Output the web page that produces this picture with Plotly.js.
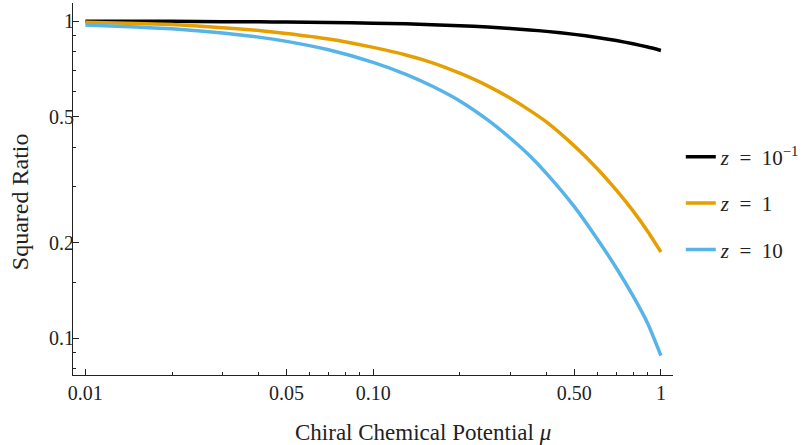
<!DOCTYPE html>
<html>
<head>
<meta charset="utf-8">
<script src="https://cdn.plot.ly/plotly-3.0.1.min.js"></script>
<style>html,body{margin:0;padding:0;background:#fff;}#chart{width:808px;height:445px;}</style>
</head>
<body>
<div id="chart"></div>
<script>
// Chiral chemical potential values
const mu = [0.01, 0.015, 0.02, 0.03, 0.04, 0.05, 0.07, 0.1, 0.13, 0.16, 0.2, 0.25, 0.3, 0.35, 0.4, 0.5, 0.6, 0.7, 0.8, 0.9, 1.0];
// Squared ratio for each z
const zTenth = [0.999, 0.998, 0.998, 0.996, 0.995, 0.993, 0.990, 0.985, 0.980, 0.974, 0.967, 0.958, 0.948, 0.938, 0.928, 0.908, 0.888, 0.868, 0.848, 0.828, 0.808];
const zOne   = [0.991, 0.983, 0.975, 0.953, 0.934, 0.914, 0.878, 0.826, 0.782, 0.740, 0.685, 0.625, 0.571, 0.523, 0.481, 0.404, 0.343, 0.293, 0.252, 0.217, 0.187];
const zTen   = [0.972, 0.958, 0.945, 0.917, 0.890, 0.863, 0.812, 0.741, 0.679, 0.624, 0.560, 0.488, 0.427, 0.376, 0.331, 0.260, 0.206, 0.1665, 0.1359, 0.1112, 0.0881];

const seriesNames = ['<i>z</i>\u2002=\u200210<sup>−1</sup>', '<i>z</i>\u2002=\u20021', '<i>z</i>\u2002=\u200210'];
const seriesColors = ['#000000', '#E69F00', '#56B4E9'];

const xTickVals = [0.01, 0.05, 0.1, 0.5, 1];
const xTickText = ['0.01', '0.05', '0.10', '0.50', '1'];
const xMinorVals = [0.02, 0.03, 0.04, 0.06, 0.07, 0.08, 0.09, 0.2, 0.3, 0.4, 0.6, 0.7, 0.8, 0.9];
const yTickVals = [0.1, 0.2, 0.5, 1];
const yTickText = ['0.1', '0.2', '0.5', '1'];
const yMinorVals = [0.08, 0.09, 0.15, 0.3, 0.4, 0.6, 0.7, 0.8, 0.9];

const xTitle = 'Chiral Chemical Potential <i>μ</i>';
const yTitle = 'Squared Ratio';

const ys = [zTenth, zOne, zTen];
const traces = ys.map((y, i) => ({
  x: mu, y: y, type: 'scatter', mode: 'lines',
  name: seriesNames[i], legendgroup: 'g' + i,
  line: {color: seriesColors[i], width: 3.5, shape: 'spline', smoothing: 0.5}
}));

const FONT = 'Liberation Serif, Times New Roman, serif';
const TXT = '#222';
const axisCommon = {
  showgrid: false, zeroline: false, showline: true, linecolor: '#222', linewidth: 1,
  ticks: 'inside', ticklen: 6, tickwidth: 1, tickcolor: '#222',
  tickfont: {family: FONT, size: 20, color: TXT}, mirror: false
};

const layout = {
  width: 808, height: 445,
  margin: {l: 73, r: 133, t: 3, b: 70},
  paper_bgcolor: '#fff', plot_bgcolor: '#fff',
  font: {family: FONT, color: TXT},
  showlegend: true,
  legend: {x: 1.013, xanchor: 'left', y: 0.462, yanchor: 'middle',
           font: {family: FONT, size: 21, color: TXT},
           tracegroupgap: 16, traceorder: 'grouped', bgcolor: 'rgba(0,0,0,0)'},
  xaxis: Object.assign({}, axisCommon, {
    type: 'log', range: [-2.043, 0.042],
    tickmode: 'array', tickvals: xTickVals, ticktext: xTickText,
    ticklabelstandoff: 0,
    minor: {tickmode: 'array', tickvals: xMinorVals, ticks: 'inside', ticklen: 3, tickcolor: '#222', tickwidth: 1}
  }),
  yaxis: Object.assign({}, axisCommon, {
    type: 'log', range: [-1.116, 0.057],
    tickmode: 'array', tickvals: yTickVals, ticktext: yTickText,
    ticklabelstandoff: -6,
    minor: {tickmode: 'array', tickvals: yMinorVals, ticks: 'inside', ticklen: 3, tickcolor: '#222', tickwidth: 1}
  }),
  annotations: [
    {text: xTitle, xref: 'paper', yref: 'paper', x: (424 - 73) / 602, y: -(432 - 375) / 372,
     xanchor: 'center', yanchor: 'middle', showarrow: false,
     font: {family: FONT, size: 23, color: TXT}},
    {text: yTitle, xref: 'paper', yref: 'paper', x: (20 - 73) / 602, y: (375 - 202) / 372,
     xanchor: 'center', yanchor: 'middle', showarrow: false, textangle: -90,
     font: {family: FONT, size: 24, color: TXT}}
  ]
};

Plotly.newPlot('chart', traces, layout, {displayModeBar: false, staticPlot: true});
</script>
</body>
</html>
